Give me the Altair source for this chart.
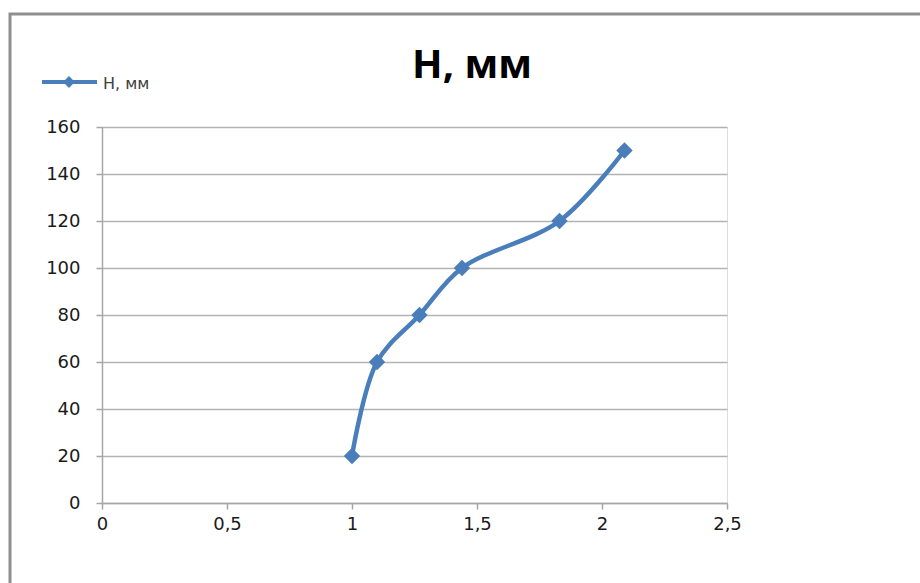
import altair as alt
import pandas as pd

x_vals = [1.0, 1.1, 1.27, 1.44, 1.83, 2.09]
h_vals = [20, 60, 80, 100, 120, 150]
series_name = "H, мм"
chart_title = "H, мм"
x_ticks = [0, 0.5, 1, 1.5, 2, 2.5]
y_ticks = [0, 20, 40, 60, 80, 100, 120, 140, 160]

df = pd.DataFrame({"x": x_vals, "h": h_vals})
leg = pd.DataFrame({"label": [series_name], "title": [chart_title]})

BLUE = "#4a7ebb"
GRID = "#b3b3b3"

xenc = alt.X("x:Q", scale=alt.Scale(domain=[0, 2.5], nice=False),
             axis=alt.Axis(values=x_ticks, title=None, grid=False, labelFlush=False,
                           labelExpr="replace(format(datum.value, '~g'), '.', ',')",
                           tickSize=6, tickColor="#a6a6a6", domainColor="#a6a6a6",
                           domainWidth=1.5, tickWidth=1.5, labelPadding=6,
                           labelFont="DejaVu Sans", labelFontSize=18, labelColor="#1a1a1a"))
yenc = alt.Y("h:Q", scale=alt.Scale(domain=[0, 160], nice=False),
             axis=alt.Axis(values=y_ticks, title=None, grid=True, gridColor=GRID,
                           gridWidth=1.5, tickSize=6, tickColor="#a6a6a6", labelFlush=False,
                           domainColor="#a6a6a6", domainWidth=1.5, tickWidth=1.5,
                           labelPadding=16, labelFont="DejaVu Sans", labelFontSize=18,
                           labelColor="#1a1a1a"))

base = alt.Chart(df)

line = base.mark_line(interpolate="catmull-rom", color=BLUE, strokeWidth=4.5).encode(x=xenc, y=yenc)
pts = base.mark_point(shape="diamond", filled=True, size=270, color=BLUE, opacity=1).encode(x="x:Q", y="h:Q")

frame = alt.Chart(leg).mark_rect(fillOpacity=0, stroke="#8f8f8f", strokeWidth=3).encode(
    x=alt.value(-92), x2=alt.value(840), y=alt.value(-113), y2=alt.value(480))

title_txt = alt.Chart(leg).mark_text(align="center", baseline="alphabetic", font="Open Sans",
                                     fontSize=40, fontWeight="bold", color="#000000").encode(
    x=alt.value(370), y=alt.value(-49), text="title:N")

leg_line = alt.Chart(leg).mark_rule(color=BLUE, strokeWidth=4).encode(
    x=alt.value(-60), x2=alt.value(-5), y=alt.value(-45))
leg_pt = alt.Chart(leg).mark_point(shape="diamond", filled=True, size=140, color=BLUE, opacity=1).encode(
    x=alt.value(-33), y=alt.value(-45))
leg_txt = alt.Chart(leg).mark_text(align="left", baseline="alphabetic", font="DejaVu Sans",
                                   fontSize=16, color="#404040").encode(
    x=alt.value(1), y=alt.value(-38), text="label:N")

chart = alt.layer(frame, line, pts, title_txt, leg_line, leg_pt, leg_txt).properties(
    width=625, height=376,
    autosize=alt.AutoSizeParams(type="none"),
    padding={"left": 102, "top": 127, "right": 193, "bottom": 80},
).configure_view(stroke=None).configure(background="white")

chart.save("out.html", embed_options={"renderer": "svg", "actions": False})
